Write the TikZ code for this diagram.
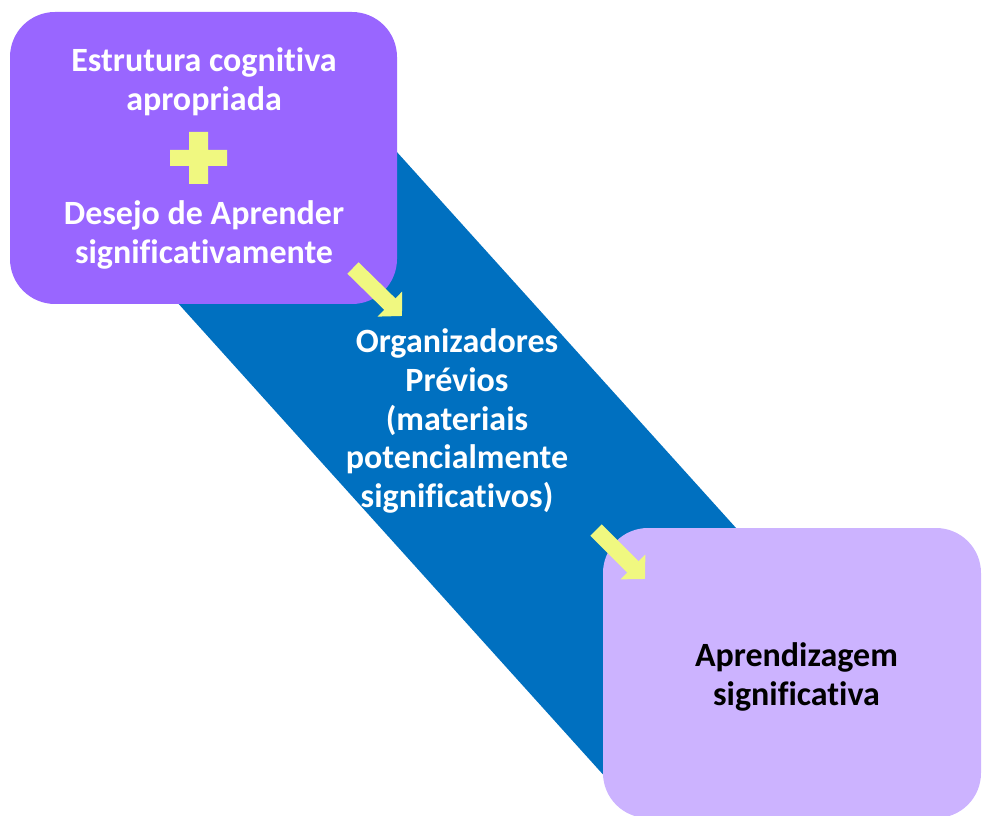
\documentclass[tikz,border=0pt]{standalone}
\usepackage{fontspec}
\setmainfont{Carlito}[Ligatures=CommonOff]
\usetikzlibrary{arrows.meta}
\definecolor{boxpurple}{RGB}{153,102,255}
\definecolor{boxlilac}{RGB}{204,179,255}
\definecolor{bandblue}{RGB}{0,112,192}
\definecolor{markyellow}{RGB}{240,248,128}

\begin{document}
\begin{tikzpicture}[x=0.75pt, y=-0.75pt,
    card/.style={
      rounded corners=33.75pt, inner sep=0pt
    },
    lbl/.style={
      align=center, font=\fontsize{25.5}{28.9}\selectfont\bfseries
    },
    flow/.style={
      draw=markyellow, line width=12pt,
      -{Triangle[width=25.5pt, length=12.75pt]}
    },
  ]
    \useasboundingbox (0,0) rectangle (982,816);
    \fill[bandblue] (350,100) -- (801,600) -- (626,800) -- (130,250) -- cycle;

    \node[card, fill=boxpurple, minimum width=290.25pt, minimum height=219pt] (prereq) at (203.5,158) {};
    \node[card, fill=boxlilac, minimum width=283.5pt, minimum height=217.5pt] (result) at (792,673) {};

    \fill[markyellow] (170,150) rectangle (227,166) (189,132) rectangle (208,184);
    \node[lbl, text=white] (estrutura) at (204,82) {Estrutura cognitiva\\apropriada};
    \node[lbl, text=white] (desejo) at (204,235) {Desejo de Aprender\\significativamente};
    \node[lbl, text=white] (organiz) at (457,421) {Organizadores\\Prévios\\(materiais\\potencialmente\\significativos)};
    \node[lbl] (aprend) at (796.5,677) {Aprendizagem\\significativa};

    \coordinate (a1s) at (353,268);
    \coordinate (a1e) at (402,316);
    \coordinate (a2s) at (596,530);
    \coordinate (a2e) at (645,579);
    \draw[flow] (a1s) -- (a1e);
    \draw[flow] (a2s) -- (a2e);
  \end{tikzpicture}
\end{document}
